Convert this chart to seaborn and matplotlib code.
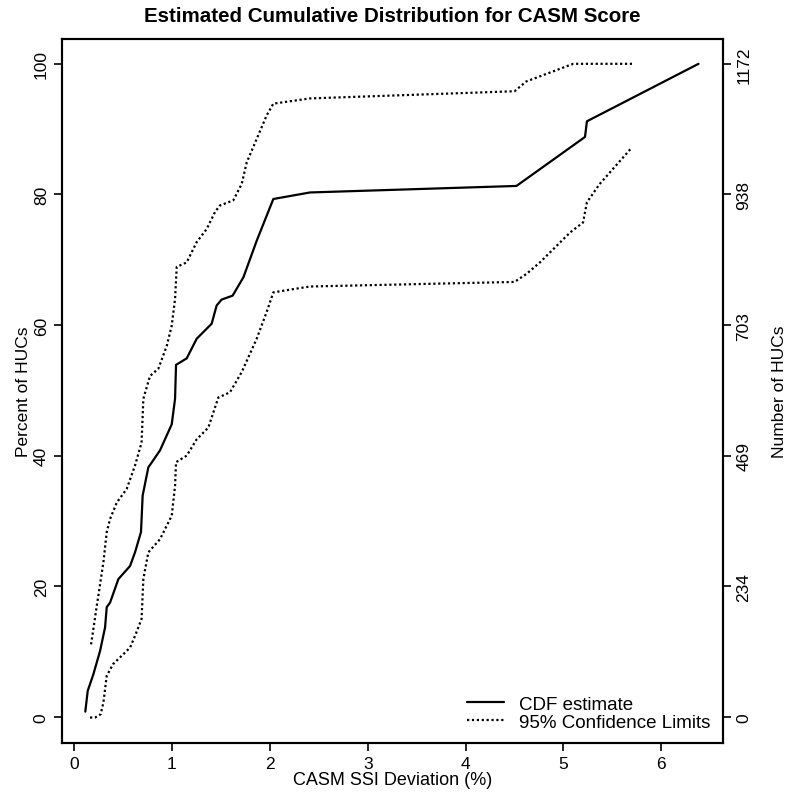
import matplotlib
matplotlib.use("Agg")
import matplotlib.pyplot as plt
import seaborn as sns
import pandas as pd
import numpy as np

# CDF estimate
cdf_x = [0.115, 0.14, 0.197, 0.266, 0.317, 0.334, 0.368, 0.453, 0.572, 0.623, 0.684, 0.701,
         0.759, 0.878, 0.998, 1.032, 1.042, 1.151, 1.253, 1.406, 1.457, 1.508, 1.62, 1.73,
         1.866, 2.036, 2.41, 4.52, 5.22, 5.24, 6.38]
cdf_y = [0.8, 4.0, 6.5, 10.1, 13.7, 16.8, 17.5, 21.1, 23.1, 25.2, 28.3, 33.9,
         38.2, 40.8, 44.8, 48.7, 53.9, 54.9, 57.9, 60.2, 63.0, 63.9, 64.5, 67.3,
         72.9, 79.3, 80.3, 81.3, 88.8, 91.2, 100.0]

# Upper 95% confidence limit
up_x = [0.174, 0.197, 0.232, 0.248, 0.30, 0.334, 0.368, 0.436, 0.538, 0.623, 0.69, 0.708,
        0.776, 0.861, 0.947, 0.998, 1.032, 1.049, 1.151, 1.253, 1.355, 1.44, 1.49, 1.627,
        1.713, 1.764, 1.866, 1.968, 2.036, 2.41, 4.50, 4.62, 5.10, 5.70]
up_y = [11.1, 13.4, 17.0, 18.5, 23.7, 28.3, 30.3, 32.8, 34.9, 38.5, 42.0, 48.7,
        52.2, 53.3, 56.8, 59.9, 64.0, 68.9, 69.6, 72.7, 74.7, 77.3, 78.3, 79.1,
        81.6, 84.9, 88.5, 92.1, 93.9, 94.7, 95.8, 97.3, 100.0, 100.0]

# Lower 95% confidence limit
lo_x = [0.163, 0.215, 0.272, 0.30, 0.334, 0.40, 0.504, 0.572, 0.623, 0.69, 0.708, 0.759,
        0.878, 0.998, 1.032, 1.042, 1.151, 1.253, 1.372, 1.423, 1.474, 1.593, 1.713, 1.866,
        1.968, 2.036, 2.24, 2.41, 4.50, 4.62, 4.76, 5.07, 5.20, 5.24, 5.37, 5.70]
lo_y = [-0.1, -0.1, 0.4, 2.2, 6.3, 8.1, 9.6, 10.6, 12.4, 15.0, 21.1, 25.2,
        27.2, 30.8, 35.4, 39.0, 40.0, 42.5, 44.3, 46.6, 48.9, 49.7, 52.8, 57.9,
        62.0, 65.0, 65.5, 65.9, 66.6, 67.8, 69.6, 74.2, 75.7, 78.8, 81.6, 87.2]

x_ticks = [0, 1, 2, 3, 4, 5, 6]
y_ticks = [0, 20, 40, 60, 80, 100]
n_ticks = [0, 234, 469, 703, 938, 1172]
n_total = 1172

sns.set_style("ticks")
plt.rcParams['font.family'] = ['Liberation Sans', 'DejaVu Sans']
plt.rcParams['text.color'] = 'black'
plt.rcParams['axes.labelcolor'] = 'black'

fig = plt.figure(figsize=(7.9, 8.04), dpi=100)
ax = fig.add_axes([62/790, 60/804, (723-62)/790, (744-40)/804])

df_cdf = pd.DataFrame({"x": cdf_x, "y": cdf_y})
df_up = pd.DataFrame({"x": up_x, "y": up_y})
df_lo = pd.DataFrame({"x": lo_x, "y": lo_y})

dot = (0, (1.0, 1.2))
sns.lineplot(data=df_cdf, x="x", y="y", ax=ax, sort=False, estimator=None,
             color="black", lw=1.6, label="CDF estimate")
sns.lineplot(data=df_up, x="x", y="y", ax=ax, sort=False, estimator=None,
             color="black", lw=1.6, linestyle=dot, label="95% Confidence Limits")
sns.lineplot(data=df_lo, x="x", y="y", ax=ax, sort=False, estimator=None,
             color="black", lw=1.6, linestyle=dot, label="_nolegend_")

ax.set_xlim(-0.123, 6.63)
ax.set_ylim(-4.0, 103.8)
ax.set_xticks(x_ticks)
ax.set_yticks(y_ticks)
ax.set_yticklabels([str(v) for v in y_ticks], rotation=90, va="center")
ax.tick_params(axis="both", direction="out", length=6, width=1.2, labelsize=12.5,
               color="black", labelcolor="black")
for s in ax.spines.values():
    s.set_visible(True)
    s.set_linewidth(1.5)
    s.set_color("black")

ax.set_xlabel("CASM SSI Deviation (%)", fontsize=13, labelpad=0, color="black")
ax.set_ylabel("Percent of HUCs", fontsize=12.5, labelpad=2, color="black")
ax.set_title("Estimated Cumulative Distribution for CASM Score",
             fontsize=14.8, fontweight="bold", pad=13, color="black")

ax2 = ax.twinx()
lo, hi = ax.get_ylim()
ax2.set_ylim(lo * n_total / 100, hi * n_total / 100)
ax2.set_yticks(n_ticks)
ax2.set_yticklabels([str(v) for v in n_ticks], rotation=90, va="center")
ax2.tick_params(axis="y", direction="out", length=6, width=1.2, labelsize=12.5,
                color="black", labelcolor="black")
ax2.set_ylabel("Number of HUCs", fontsize=12.5, labelpad=15, color="black")
for s in ax2.spines.values():
    s.set_linewidth(1.5)
    s.set_color("black")

leg = ax.legend(loc="lower right", frameon=False, fontsize=13.5,
                handlelength=2.0, handletextpad=0.8, labelspacing=0.05,
                borderaxespad=0.25)
for t in leg.get_texts():
    t.set_color("black")

fig.savefig("out.png", dpi=100)
